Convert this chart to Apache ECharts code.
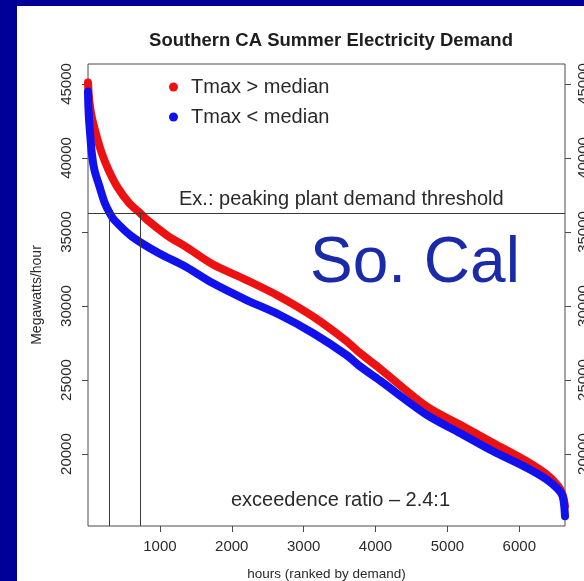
<!DOCTYPE html>
<html>
<head>
<meta charset="utf-8">
<script src="https://cdn.jsdelivr.net/npm/echarts@6/dist/echarts.min.js"></script>
<style>
  html, body { margin: 0; padding: 0; background: #000099; overflow: hidden; }
  #panel { position: absolute; left: 17px; top: 6px; width: 567px; height: 575px; background: #ffffff; }
  #chart { position: absolute; left: 0; top: 0; width: 584px; height: 581px; }
</style>
</head>
<body>
<div id="panel"></div>
<div id="chart"></div>
<script>
// Load-duration curves: hourly demand sorted from highest to lowest.
const hotHours = [0, 10, 30, 61, 122, 192, 285, 405, 573, 720, 823, 1121, 1353, 1734, 2199, 2663, 3128, 3593, 3778, 4057, 4708, 5172, 5636, 6102, 6380, 6543, 6600, 6636];
const hotMW    = [45100, 44300, 43400, 42570, 41440, 40320, 39200, 38070, 36950, 36300, 35820, 34700, 34030, 32820, 31770, 30650, 29300, 27650, 26850, 25790, 23220, 21990, 20750, 19510, 18620, 17830, 17300, 16500];

const coolHours = [0, 5, 15, 53, 89, 160, 234, 300, 364, 610, 981, 1353, 1734, 2199, 2663, 3128, 3593, 3778, 4057, 4708, 5172, 5636, 6102, 6380, 6543, 6603, 6625, 6636];
const coolMW    = [44500, 43500, 42570, 40320, 39200, 38070, 36950, 36300, 35820, 34700, 33580, 32670, 31550, 30420, 29410, 28180, 26700, 25950, 24980, 22660, 21430, 20190, 19070, 18280, 17600, 17150, 16500, 15800];

const yTicks = [20000, 25000, 30000, 35000, 40000, 45000];
const xTicks = [1000, 2000, 3000, 4000, 5000, 6000];

const threshold = 36300;   // peaking plant demand threshold (MW)
const coolCross = 300;     // hours above threshold, cooler days
const hotCross = 720;      // hours above threshold, hotter days

const xMin = 0, xMax = 6636;
const yMin = 15140, yMax = 46350;

const pairs = (xs, ys) => xs.map((x, i) => [x, ys[i]]);
const plain = v => String(v);

const FONT = '"Liberation Sans", Arial, Helvetica, sans-serif';
const INK = '#2a2a2a';
const FRAME = '#4a4a4a';

const chart = echarts.init(document.getElementById('chart'), null, { renderer: 'canvas' });

const yAxisBase = {
  type: 'value', min: yMin, max: yMax,
  splitLine: { show: false },
  axisLine: { show: false },
  axisTick: { show: true, length: 6, customValues: yTicks, lineStyle: { color: FRAME, width: 1 } },
  axisLabel: { show: true, rotate: 90, customValues: yTicks, formatter: plain, fontFamily: FONT, fontSize: 15, color: INK }
};

chart.setOption({
  backgroundColor: 'transparent',
  animation: false,
  title: {
    text: 'Southern CA Summer Electricity Demand',
    left: 326, top: 26, textAlign: 'center',
    textStyle: { fontFamily: FONT, fontSize: 18.5, fontWeight: 'bold', color: '#1e1e1e' }
  },
  legend: {
    orient: 'vertical', left: 164, top: 72, itemGap: 10,
    icon: 'circle', itemWidth: 9, itemHeight: 9,
    textStyle: { fontFamily: FONT, fontSize: 20, color: INK, padding: [0, 0, 0, 8] },
    data: ['Tmax > median', 'Tmax < median']
  },
  grid: {
    left: 88, right: 19, top: 64, bottom: 55,
    outerBoundsMode: 'none',
    show: true, borderColor: FRAME, borderWidth: 1, backgroundColor: 'transparent'
  },
  xAxis: {
    type: 'value', min: xMin, max: xMax,
    name: 'hours (ranked by demand)', nameLocation: 'middle', nameGap: 41,
    nameTextStyle: { fontFamily: FONT, fontSize: 13.5, color: INK },
    splitLine: { show: false },
    axisLine: { show: false },
    axisTick: { show: true, length: 6, customValues: xTicks, lineStyle: { color: FRAME, width: 1 } },
    axisLabel: { show: true, margin: 13, customValues: xTicks, formatter: plain, fontFamily: FONT, fontSize: 15, color: INK }
  },
  yAxis: [
    Object.assign({}, yAxisBase, {
      position: 'left',
      name: 'Megawatts/hour', nameLocation: 'middle', nameGap: 44,
      nameTextStyle: { fontFamily: FONT, fontSize: 14, color: INK },
      axisLabel: Object.assign({}, yAxisBase.axisLabel, { margin: 14 })
    }),
    Object.assign({}, yAxisBase, {
      position: 'right',
      axisLabel: Object.assign({}, yAxisBase.axisLabel, { margin: 11 })
    })
  ],
  series: [
    {
      name: 'Tmax > median', type: 'line', data: pairs(hotHours, hotMW),
      showSymbol: false, smooth: 0.3,
      itemStyle: { color: '#ee1111' },
      lineStyle: { color: '#ee1111', width: 8, cap: 'round', join: 'round' },
      z: 3,
      markLine: {
        silent: true, symbol: 'none', animation: false,
        label: { show: false },
        lineStyle: { color: '#3a3a3a', width: 1, type: 'solid' },
        data: [
          [{ coord: [xMin, threshold] }, { coord: [xMax, threshold] }],
          [{ coord: [coolCross, threshold] }, { coord: [coolCross, yMin] }],
          [{ coord: [hotCross, threshold] }, { coord: [hotCross, yMin] }]
        ]
      }
    },
    {
      name: 'Tmax < median', type: 'line', data: pairs(coolHours, coolMW),
      showSymbol: false, smooth: 0.3,
      itemStyle: { color: '#1111ee' },
      lineStyle: { color: '#1111ee', width: 8, cap: 'round', join: 'round' },
      z: 4
    }
  ],
  graphic: [
    {
      type: 'text', left: 179, top: 189, z: 10,
      style: { text: 'Ex.: peaking plant demand threshold', font: '20px ' + FONT, fill: INK }
    },
    {
      type: 'text', left: 231, top: 490, z: 10,
      style: { text: 'exceedence ratio \u2013 2.4:1', font: '20px ' + FONT, fill: INK }
    },
    {
      type: 'text', left: 310, top: 232, z: 10,
      style: { text: 'So. Cal', font: '64px ' + FONT, fill: '#1b2aa8' }
    }
  ]
});
</script>
</body>
</html>
